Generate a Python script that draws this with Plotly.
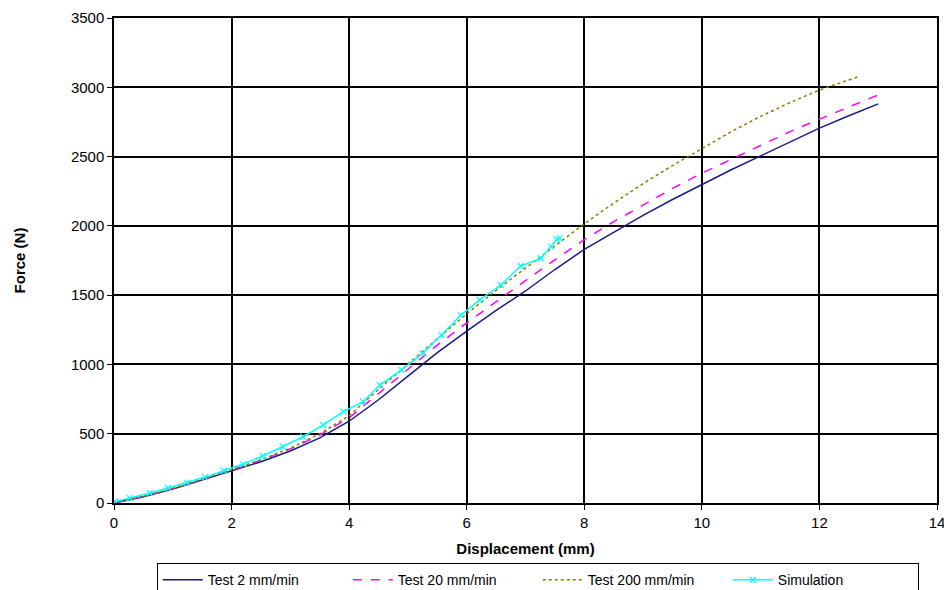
import plotly.graph_objects as go

# Displacement (mm) / Force (N)
test2_x = [0, 0.5, 1, 1.5, 2, 2.5, 3, 3.5, 4, 4.5, 5, 5.5, 6, 6.5, 7, 7.5, 8, 8.5, 9, 9.5, 10, 10.5, 11, 11.5, 12, 12.5, 13]
test2_y = [0, 45, 100, 165, 232, 298, 375, 470, 590, 745, 915, 1085, 1240, 1390, 1530, 1685, 1830, 1955, 2075, 2190, 2300, 2405, 2505, 2605, 2705, 2795, 2880]

test20_x = [0, 0.5, 1, 1.5, 2, 2.5, 3, 3.5, 4, 4.5, 5, 5.5, 6, 6.5, 7, 7.5, 8, 8.5, 9, 9.5, 10, 10.5, 11, 11.5, 12, 12.5, 13]
test20_y = [0, 48, 104, 170, 238, 308, 390, 490, 615, 790, 965, 1140, 1300, 1455, 1605, 1755, 1900, 2030, 2150, 2270, 2380, 2480, 2580, 2680, 2770, 2860, 2945]

test200_x = [0, 0.5, 1, 1.5, 2, 2.5, 3, 3.5, 4, 4.5, 5, 5.5, 6, 6.5, 7, 7.5, 8, 8.5, 9, 9.5, 10, 10.5, 11, 11.5, 12, 12.65]
test200_y = [0, 48, 105, 172, 240, 312, 395, 500, 630, 820, 1005, 1185, 1365, 1535, 1695, 1855, 2015, 2164, 2305, 2435, 2560, 2680, 2790, 2890, 2980, 3075]

sim_x = [0.02, 0.27, 0.61, 0.92, 1.24, 1.55, 1.87, 2.20, 2.53, 2.87, 3.22, 3.56, 3.90, 4.24, 4.52, 4.89, 5.25, 5.57, 5.90, 6.22, 6.58, 6.92, 7.26, 7.43, 7.53, 7.58]
sim_y = [10, 35, 72, 108, 147, 187, 233, 281, 339, 406, 478, 563, 659, 731, 851, 960, 1080, 1212, 1356, 1465, 1573, 1710, 1766, 1850, 1903, 1910]

x_ticks = [0, 2, 4, 6, 8, 10, 12, 14]
y_ticks = [0, 500, 1000, 1500, 2000, 2500, 3000, 3500]

fig = go.Figure()
fig.add_trace(go.Scatter(x=test2_x, y=test2_y, mode="lines", name="Test 2 mm/min",
                         line=dict(color="#1a1a80", width=1.5)))
fig.add_trace(go.Scatter(x=test20_x, y=test20_y, mode="lines", name="Test 20 mm/min",
                         line=dict(color="#ff00ff", width=1.5, dash="dash")))
fig.add_trace(go.Scatter(x=test200_x, y=test200_y, mode="lines", name="Test 200 mm/min",
                         line=dict(color="#808000", width=1.5, dash="dot")))
fig.add_trace(go.Scatter(x=sim_x, y=sim_y, mode="lines+markers", name="Simulation",
                         line=dict(color="#00ffff", width=1.5),
                         marker=dict(symbol="x-thin", size=6, color="#00ffff",
                                     line=dict(color="#00ffff", width=1.2))))

font = "Liberation Sans, Arial, sans-serif"
# page body has an 8px margin, so the figure is sized/offset to compensate
fig.update_layout(
    width=944, height=582,
    margin=dict(l=106, r=15, t=10, b=87, autoexpand=False),
    paper_bgcolor="white", plot_bgcolor="white",
    font=dict(family=font, size=15, color="black"),
    showlegend=True,
    legend=dict(orientation="h", x=0.052, xanchor="left", y=-0.124, yanchor="top",
                bordercolor="black", borderwidth=1, bgcolor="white",
                font=dict(size=14, family=font),
                entrywidth=135, entrywidthmode="pixels", itemwidth=40,
                tracegroupgap=0),
)
fig.update_xaxes(range=[0, 14], tickvals=x_ticks, showgrid=True, gridcolor="black",
                 gridwidth=1.5, showline=True, linecolor="black", linewidth=1.5,
                 mirror=True, ticks="outside", ticklen=5, tickcolor="black",
                 zeroline=False,
                 title=dict(text="<b>Displacement (mm)</b>", font=dict(size=15), standoff=14),
                 tickfont=dict(size=15))
fig.update_yaxes(range=[0, 3500], tickvals=y_ticks, showgrid=True, gridcolor="black",
                 gridwidth=1.5, showline=True, linecolor="black", linewidth=1.5,
                 mirror=True, ticks="outside", ticklen=5, tickcolor="black",
                 zeroline=False,
                 title=dict(text="<b>Force (N)</b>", font=dict(size=15), standoff=42),
                 tickfont=dict(size=15))

fig.write_html("out.html")
